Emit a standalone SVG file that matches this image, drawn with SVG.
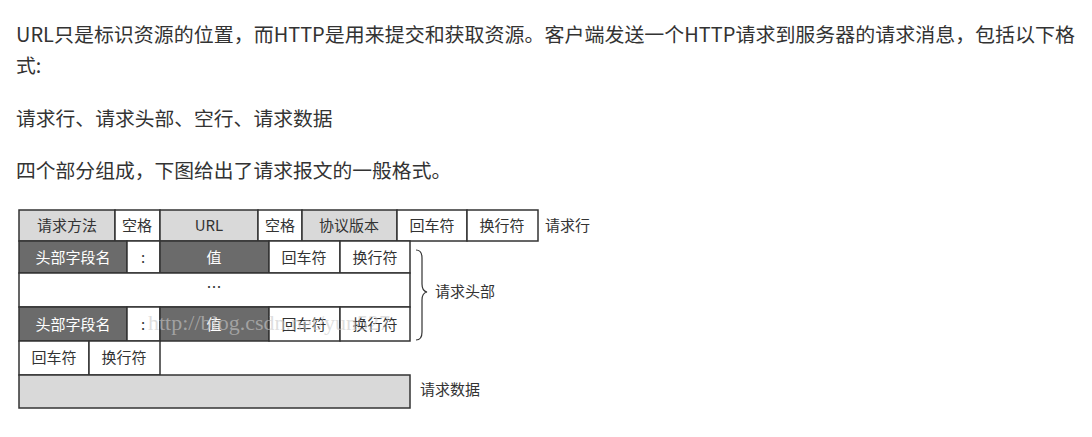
<svg xmlns="http://www.w3.org/2000/svg" width="1092" height="437" viewBox="0 0 1092 437">
<style>
.p{font-family:"Noto Sans CJK SC","Noto Sans",sans-serif;font-size:19.8px;fill:#333}
.c{stroke:#333;stroke-width:1.5}
.w{fill:#fff}.g{fill:#d9d9d9}.d{fill:#6b6b6b}
.t{font-family:"Noto Sans CJK SC","Liberation Serif",serif;font-size:15px;text-anchor:middle;fill:#333}
.tw{fill:#fff}
.l{font-family:"Noto Sans CJK SC","Liberation Serif",serif;font-size:15px;fill:#333}
</style>
<rect width="1092" height="437" fill="#fff"/>
<text class="p" x="16" y="42" textLength="1059" lengthAdjust="spacingAndGlyphs">URL只是标识资源的位置，而HTTP是用来提交和获取资源。客户端发送一个HTTP请求到服务器的请求消息，包括以下格</text>
<text class="p" x="16" y="73">式:</text>
<text class="p" x="16" y="126">请求行、请求头部、空行、请求数据</text>
<text class="p" x="16" y="178">四个部分组成，下图给出了请求报文的一般格式。</text>
<g id="row1">
<rect class="c g" x="19" y="210" width="96" height="31"/><text class="t" x="67" y="231">请求方法</text>
<rect class="c w" x="115" y="210" width="45" height="31"/><text class="t" x="137" y="231">空格</text>
<rect class="c g" x="160" y="210" width="98" height="31"/><text class="t" x="209" y="231">URL</text>
<rect class="c w" x="258" y="210" width="44" height="31"/><text class="t" x="280" y="231">空格</text>
<rect class="c g" x="302" y="210" width="95" height="31"/><text class="t" x="349" y="231">协议版本</text>
<rect class="c w" x="397" y="210" width="70" height="31"/><text class="t" x="432" y="231">回车符</text>
<rect class="c w" x="467" y="210" width="71" height="31"/><text class="t" x="502" y="231">换行符</text>
<text class="l" x="545" y="231">请求行</text>
</g>
<g id="row2">
<rect class="c d" x="19" y="241" width="108" height="32"/><text class="t tw" x="73" y="263">头部字段名</text>
<rect class="c w" x="127" y="241" width="33" height="32"/><text class="t" x="143" y="263">:</text>
<rect class="c d" x="160" y="241" width="109" height="32"/><text class="t tw" x="214" y="263">值</text>
<rect class="c w" x="269" y="241" width="71" height="32"/><text class="t" x="304" y="263">回车符</text>
<rect class="c w" x="340" y="241" width="70" height="32"/><text class="t" x="375" y="263">换行符</text>
</g>
<g id="row3">
<rect class="c w" x="19" y="273" width="391" height="34"/><text class="t" x="214" y="293">…</text>
</g>
<g id="row4">
<rect class="c d" x="19" y="307" width="108" height="34"/><text class="t tw" x="73" y="330">头部字段名</text>
<rect class="c w" x="127" y="307" width="33" height="34"/><text class="t" x="143" y="330">:</text>
<rect class="c d" x="160" y="307" width="109" height="34"/><text class="t tw" x="214" y="330">值</text>
<rect class="c w" x="269" y="307" width="71" height="34"/><text class="t" x="304" y="330">回车符</text>
<rect class="c w" x="340" y="307" width="70" height="34"/><text class="t" x="375" y="330">换行符</text>
</g>
<g id="row5">
<rect class="c w" x="19" y="341" width="70" height="34"/><text class="t" x="54" y="363">回车符</text>
<rect class="c w" x="89" y="341" width="71" height="34"/><text class="t" x="124" y="363">换行符</text>
</g>
<g id="row6">
<rect class="c g" x="19" y="375" width="391" height="33"/>
<text class="l" x="420" y="395">请求数据</text>
</g>
<g id="brace">
<path d="M416,250 Q422,250 422,258 L422,284 Q422,291 427,292 Q422,293 422,300 L422,332 Q422,340 416,340" fill="none" stroke="#333" stroke-width="1.2"/>
<text class="l" x="435" y="297">请求头部</text>
</g>
<text x="148" y="330" font-family="Liberation Serif,serif" font-size="22" fill="#c8c8c8" fill-opacity="0.6">http://blog.csdn.net/yun527</text>
</svg>
